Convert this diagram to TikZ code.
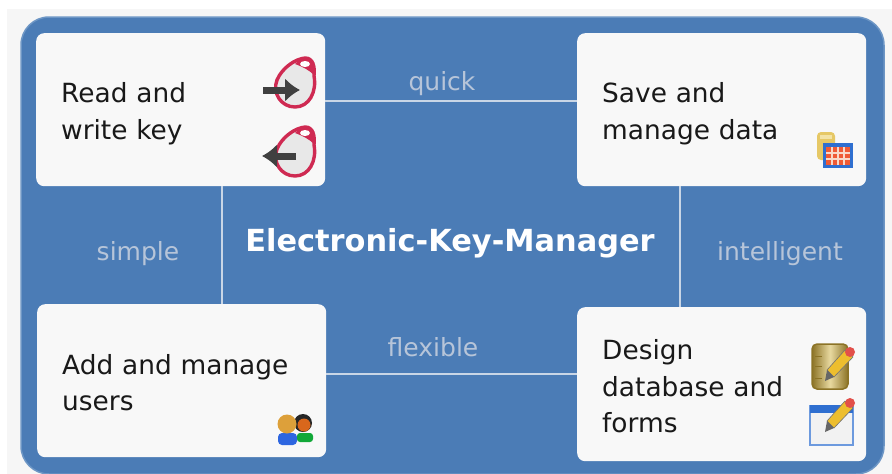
\documentclass[tikz,border=0pt]{standalone}
\usepackage{fontspec}
\setmainfont{DejaVu Sans}
\usetikzlibrary{calc,arrows.meta}
\definecolor{panel}{HTML}{4B7CB6}
\definecolor{panelrim}{HTML}{6D96C5}
\definecolor{paper}{HTML}{F6F6F6}
\definecolor{boxfill}{HTML}{F8F8F8}
\definecolor{keyred}{HTML}{CF2A52}
\definecolor{linec}{HTML}{C9D6E6}
\definecolor{labelc}{HTML}{B7C5D9}
\definecolor{gold}{HTML}{E6C866}
\definecolor{goldpale}{HTML}{F3E3A6}
\definecolor{golddark}{HTML}{8C7326}
\definecolor{goldmid}{HTML}{E8D9A0}
\definecolor{iconblue}{HTML}{2F6FD0}
\definecolor{cellred}{HTML}{F05A35}
\definecolor{cellpale}{HTML}{F8D8C8}
\definecolor{pencilyellow}{HTML}{EDBE2E}
\definecolor{pencilred}{HTML}{E2504A}
\definecolor{facetan}{HTML}{DDA03A}
\definecolor{facedark}{HTML}{D9671C}
\definecolor{shirtblue}{HTML}{2E66E0}
\definecolor{shirtgreen}{HTML}{12A838}
\tikzset{
  x=1pt,y=-1pt,
  cardbox/.style={fill=boxfill,draw=none,rounded corners=8,minimum width=289,minimum height=153,text width=239,inner sep=0,align=left,anchor=north west,font=\fontsize{26.4}{36.5}\selectfont,text=black!90},
  link/.style={draw=linec,line width=1.6},
  quality/.style={text=labelc,inner sep=0,font=\fontsize{25}{30}\selectfont},
  titletext/.style={text=white,inner sep=0,font=\fontsize{30.4}{34}\selectfont\bfseries},
  keyicon/.pic={
    \draw[keyred,line width=3.4,fill=black!9] (-18,-8) .. controls (-13,-20) and (0,-29) .. (10,-30) .. controls (18,-30) and (20,-22) .. (19,-12) .. controls (22,4) and (14,19) .. (0,19) .. controls (-14,19) and (-23,5) .. (-18,-8) -- cycle;
    \fill[keyred] (0,-24) .. controls (3,-27) and (6,-30) .. (10,-30) .. controls (18,-30) and (20,-22) .. (19,-13) .. controls (14,-18) and (8,-21) .. (0,-24) -- cycle;
    \fill[white] (10,-24) ellipse [x radius=5,y radius=3];
  },
  pencil/.pic={
    \draw[draw=black!55,line width=.6,fill=pencilyellow] (-3,-5) -- (15,-25) -- (23,-18) -- (4,2) -- cycle;
    \fill[black!60] (-3,-5) -- (4,2) -- (-5,6) -- cycle;
    \fill[pencilred] (20,-23) circle (5);
  }
}
\begin{document}
\begin{tikzpicture}
\useasboundingbox (0,0) rectangle (892,474);
\fill[white] (0,0) rectangle (892,474);
\fill[paper] (7,9) rectangle (892,474);
\draw[draw=panelrim,line width=1.5,fill=panel] (21,17) [rounded corners=28] -- (884,17) -- (884,474) -- (21,474) -- cycle;

\node[cardbox] (read) at (36,33) {\rule{0pt}{28pt}Read and\\write key};
\node[cardbox] (save) at (577,33) {\rule{0pt}{28pt}Save and\\manage data};
\node[cardbox] (users) at (37,304) {\rule{0pt}{24pt}Add and manage\\users};
\node[cardbox,minimum height=154] (design) at (577,307) {\rule{0pt}{24pt}Design\\database and\\forms};

\draw[link] ([yshift=8.5]read.east) -- ([yshift=8.5]save.west);
\draw[link] ([xshift=41.5]read.south) -- ([xshift=41.5]read.south |- users.north);
\draw[link] ([yshift=7]users.east) -- ([yshift=10.5]design.west);
\draw[link] ([xshift=-41.5]save.south) -- ([xshift=-41.5]save.south |- design.north);

\node[quality] (quick) at (442,84) {quick};
\node[quality] (simple) at (138,254) {simple};
\node[quality] (intelligent) at (780,254) {intelligent};
\node[quality] (flexible) at (433,347) {flexible};
\node[titletext] (title) at (450,243) {Electronic-Key-Manager};

% key icons
\pic at (295,88) {keyicon};
\pic at (295,157) {keyicon};
\draw[black!75,line width=7,-{Latex[length=15,width=24]}] (263,90) -- (300,90);
\draw[black!75,line width=7,-{Latex[length=15,width=24]}] (296,156) -- (262,156);

% data icon
\fill[gold,rounded corners=4] (817,132) rectangle (835,160);
\fill[goldpale] (820,135) rectangle (832,139);
\fill[iconblue] (823,143) rectangle (853,168);
\fill[cellred] (826,147) rectangle (850,165);
\foreach \px in {832,838,844} \draw[cellpale,line width=1.2] (\px,147) -- (\px,165);
\foreach \py in {153,159} \draw[cellpale,line width=1.2] (826,\py) -- (850,\py);

% users icon
\fill[shirtblue,rounded corners=4] (297,433) -- (297,445) -- (278,445) -- (278,433) -- cycle;
\fill[shirtgreen,rounded corners=3] (313,433) -- (313,442) -- (297,442) -- (297,433) -- cycle;
\fill[black!85] (303,423) circle (9);
\fill[facedark] (304,425) circle (6.5);
\fill[facetan] (287,424) circle (9.5);

% database icon
\shade[left color=golddark,right color=golddark,middle color=goldmid,rounded corners=5,draw=golddark,line width=1.5] (812,344) rectangle (848,389);
\foreach \py in {356,366,378} \draw[golddark,line width=1] (815,\py) -- (822,\py);
\pic at (830,375) {pencil};

% form icon
\draw[iconblue!70!white,line width=1.4,fill=black!5] (810,406) rectangle (853,445);
\fill[iconblue] (810,405) rectangle (853,413);
\pic at (830,426) {pencil};
\end{tikzpicture}
\end{document}
